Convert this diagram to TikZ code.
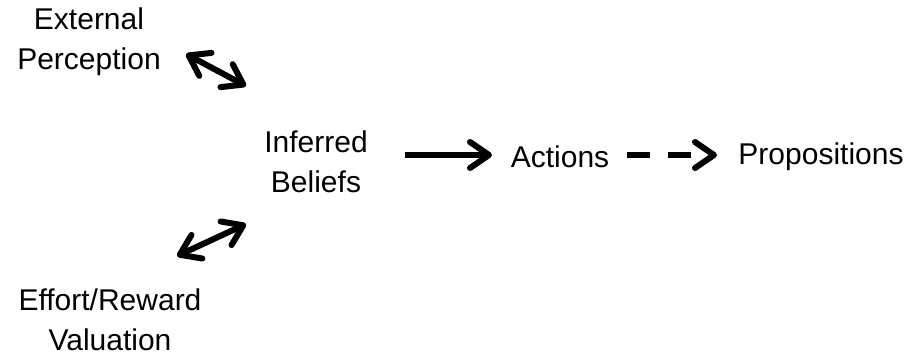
\documentclass[tikz,border=0pt]{standalone}
\usepackage{fontspec}
\setmainfont{Liberation Sans}
\usetikzlibrary{arrows.meta}
\begin{document}
\begin{tikzpicture}[x=1pt,y=-1pt,
  lbl/.style={font=\fontsize{30}{40}\selectfont, align=center, inner sep=0pt},
  tip/.tip={Straight Barb[length=19pt,width=26pt,line width=6pt,round]},
  conn/.style={line width=6.5pt, -tip},
  dconn/.style={line width=6pt, tip-tip}]
\useasboundingbox (0,0) rectangle (909,357);
\node[lbl] (ext) at (89,42) {External\\Perception};
\node[lbl] (eff) at (110,320) {Effort/Reward\\Valuation};
\node[lbl] (inf) at (316,162) {Inferred\\Beliefs};
\node[lbl] (act) at (560,157) {Actions};
\node[lbl] (prop) at (821,157) {Propositions};
\coordinate (e1) at (186,54);
\coordinate (e2) at (246,86);
\coordinate (f1) at (177,256);
\coordinate (f2) at (246,224);
\coordinate (a1) at (405,155);
\coordinate (a2) at (492,155);
\coordinate (p1) at (627,155);
\coordinate (p2) at (717,155);
\draw[dconn] (e1) -- (e2);
\draw[dconn] (f1) -- (f2);
\draw[conn] (a1) -- (a2);
\draw[conn, dash pattern=on 23pt off 18pt] (p1) -- (p2);
\end{tikzpicture}
\end{document}
